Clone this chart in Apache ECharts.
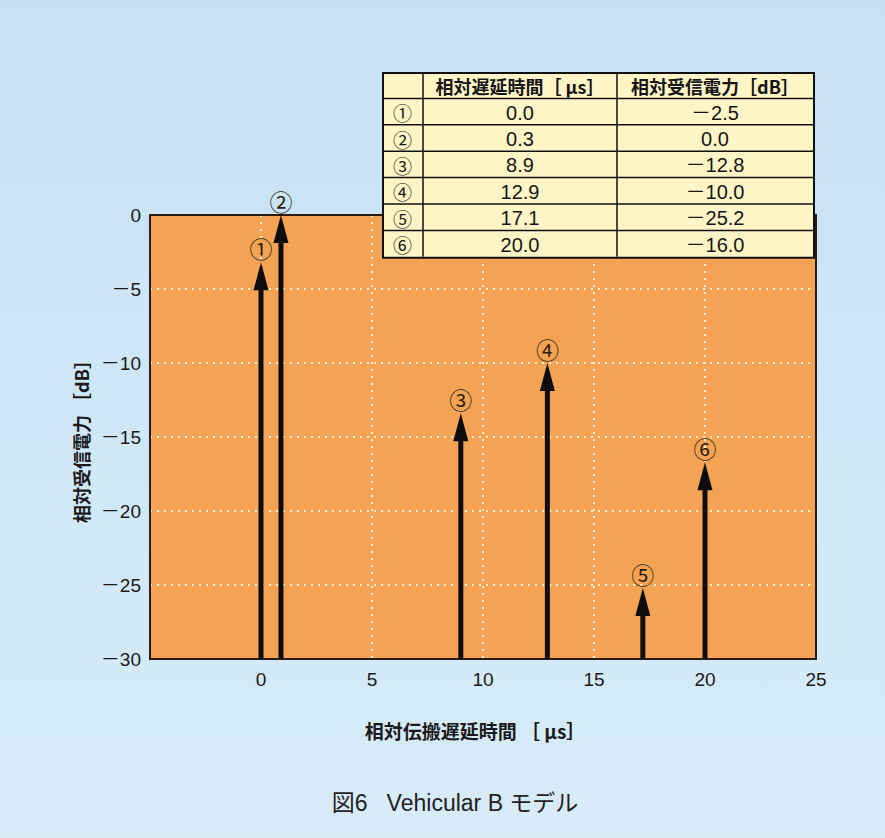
<!DOCTYPE html>
<html><head><meta charset="utf-8">
<script src="https://cdn.jsdelivr.net/npm/echarts@6/dist/echarts.min.js"></script>
<style>
html,body{margin:0;padding:0;}
body{background:linear-gradient(180deg,#c7e1f3 0%,#d1e8f7 60%,#d8ecf8 100%);}
#c{width:885px;height:838px;}
</style>
</head><body><div id="c"></div>
<script>
// ---- data ----
const pathLabels = ['①','②','③','④','⑤','⑥'];
const tableHeader = ['', '相対遅延時間［ μs］', '相対受信電力［dB］'];
const tableDelay = [0.0, 0.3, 8.9, 12.9, 17.1, 20.0];
const tablePower = [-2.5, 0.0, -12.8, -10.0, -25.2, -16.0];
// arrow positions as they are drawn in the figure
const arrowDelay = [0.0, 0.9, 9.0, 12.9, 17.2, 20.0];
const arrowPower = [-3.2, 0.0, -13.4, -10.0, -25.2, -16.7];
const xRange = [-5, 25];
const yRange = [-30, 0];
const tickStep = 5;

const FONT_NUM = 'Liberation Sans, Arial, Noto Sans CJK JP, sans-serif';
const FONT_JP = 'Noto Sans CJK JP, sans-serif';
const fmtMinus = v => (v < 0 ? '－' + String(Math.abs(v)) : String(v));
const fmt1 = v => (v < 0 ? '－' + Math.abs(v).toFixed(1) : v.toFixed(1));

const gridBox = {left: 150, right: 69, top: 215, bottom: 179};
const W = 885, H = 838;

// ---- table as graphic ----
const tbl = {left: 382, top: 72, cols: [41, 194, 196], rowH: 26.4};
const g = [];
const rows = [tableHeader].concat(pathLabels.map((p, i) => [p, fmt1(tableDelay[i]), fmt1(tablePower[i])]));
const totalW = tbl.cols.reduce((a, b) => a + b, 0);
const totalH = tbl.rowH * rows.length;
g.push({type: 'rect', left: tbl.left, top: tbl.top, z: 100,
  shape: {width: totalW, height: totalH}, style: {fill: '#fff5c6', stroke: '#111', lineWidth: 2}});
rows.forEach((r, ri) => {
  let cx = tbl.left;
  r.forEach((txt, ci) => {
    const w = tbl.cols[ci];
    g.push({type: 'text', z: 102, x: cx + w / 2, y: tbl.top + tbl.rowH * ri + tbl.rowH / 2 + 1,
      style: {text: txt, align: 'center', verticalAlign: 'middle',
        fontSize: ri === 0 ? 18 : (ci === 0 ? 19 : 20),
        lineHeight: 22,
        fontWeight: ri === 0 ? 'bold' : 'normal',
        fontFamily: (ri === 0 || ci === 0) ? FONT_JP : FONT_NUM, fill: '#151515'}});
    cx += w;
  });
  if (ri > 0) {
    const y = tbl.top + tbl.rowH * ri;
    g.push({type: 'line', z: 101, shape: {x1: tbl.left, y1: y, x2: tbl.left + totalW, y2: y},
      style: {stroke: '#111', lineWidth: 1.5}});
  }
});
let colX = tbl.left;
tbl.cols.slice(0, -1).forEach(w => {
  colX += w;
  g.push({type: 'line', z: 101, shape: {x1: colX, y1: tbl.top, x2: colX, y2: tbl.top + totalH},
    style: {stroke: '#111', lineWidth: 1.5}});
});
// plot frame drawn above the dotted grid lines
g.push({type: 'rect', z: 5, silent: true,
  shape: {x: gridBox.left, y: gridBox.top, width: W - gridBox.left - gridBox.right, height: H - gridBox.top - gridBox.bottom},
  style: {fill: 'none', stroke: '#2a1c10', lineWidth: 2}});
// caption
g.push({type: 'text', x: 455, y: 803, z: 100,
  style: {text: '図6   Vehicular B モデル', align: 'center', verticalAlign: 'middle',
    fontSize: 23, fontFamily: FONT_NUM, fill: '#222'}});

const chart = echarts.init(document.getElementById('c'), null, {renderer: 'svg'});
chart.setOption({
  backgroundColor: 'transparent',
  animation: false,
  grid: {left: gridBox.left, right: gridBox.right, top: gridBox.top, bottom: gridBox.bottom, show: true,
    backgroundColor: '#f3a353', borderWidth: 0},
  xAxis: {
    type: 'value', min: xRange[0], max: xRange[1], interval: tickStep,
    name: '相対伝搬遅延時間 ［ μs］', nameLocation: 'middle', nameGap: 62,
    nameTextStyle: {fontSize: 19, fontWeight: 'bold', fontFamily: FONT_JP, color: '#1a1a1a', padding: [0, 16, 0, 0]},
    axisLine: {show: false}, axisTick: {show: false},
    axisLabel: {margin: 11, fontSize: 19, fontFamily: FONT_NUM, color: '#1a1a1a',
      formatter: v => (v === xRange[0] ? '' : fmtMinus(v))},
    splitLine: {show: true, lineStyle: {color: 'rgba(255,248,225,0.9)', width: 2, type: [2, 5]}}
  },
  yAxis: {
    type: 'value', min: yRange[0], max: yRange[1], interval: tickStep,
    name: '相対受信電力 ［dB］', nameLocation: 'middle', nameGap: 58,
    nameTextStyle: {fontSize: 18, fontWeight: 'bold', fontFamily: FONT_JP, color: '#1a1a1a'},
    axisLine: {show: false}, axisTick: {show: false},
    axisLabel: {margin: 9, fontSize: 19, fontFamily: FONT_NUM, color: '#1a1a1a', formatter: v => fmtMinus(v)},
    splitLine: {show: true, lineStyle: {color: 'rgba(255,248,225,0.9)', width: 2, type: [2, 5]}}
  },
  graphic: g,
  series: [{
    type: 'custom', clip: false, z: 10,
    data: arrowDelay.map((d, i) => [d, arrowPower[i]]),
    renderItem: function (params, api) {
      const x = api.value(0), y = api.value(1);
      const tip = api.coord([x, y]);
      const base = api.coord([x, yRange[0]]);
      const headH = 28, headW = 15, shaftW = 5;
      return {type: 'group', children: [
        {type: 'rect', shape: {x: tip[0] - shaftW / 2, y: tip[1] + headH - 3, width: shaftW, height: base[1] - (tip[1] + headH - 3)},
          style: {fill: '#0d0d0d'}},
        {type: 'polygon', shape: {points: [[tip[0], tip[1]], [tip[0] - headW / 2, tip[1] + headH], [tip[0] + headW / 2, tip[1] + headH]]},
          style: {fill: '#0d0d0d'}},
        {type: 'text', x: tip[0], y: tip[1] - 14,
          style: {text: pathLabels[params.dataIndex], fontSize: 23, fontFamily: FONT_JP,
            fill: '#2e1e10', align: 'center', verticalAlign: 'middle'}}
      ]};
    }
  }]
});
</script>
</body></html>
